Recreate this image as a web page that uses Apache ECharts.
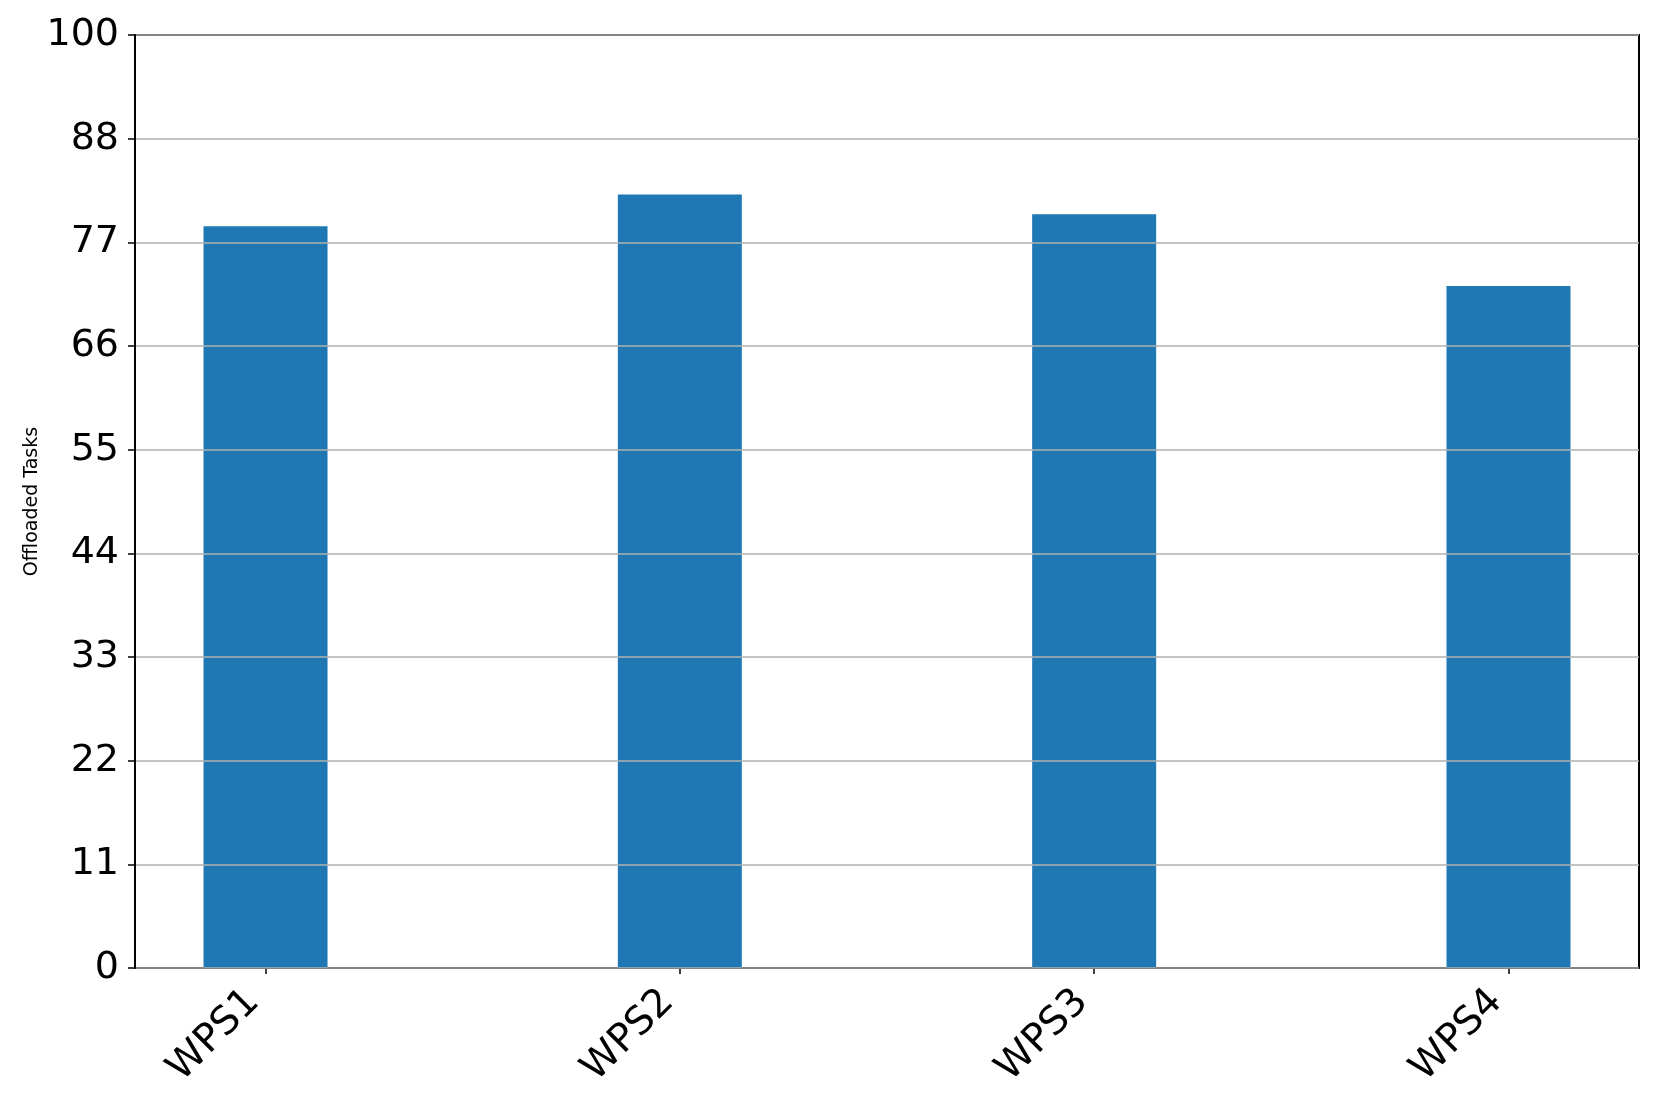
<!DOCTYPE html>
<html>
<head>
<meta charset="utf-8">
<script src="https://cdn.jsdelivr.net/npm/echarts@6/dist/echarts.min.js"></script>
<style>
  html, body { margin: 0; padding: 0; background: #fff; }
  #main { width: 1661px; height: 1107px; }
</style>
</head>
<body>
<div id="main"></div>
<script>
// data
var categories = ["WPS1", "WPS2", "WPS3", "WPS4"];
var offloaded = [79.5, 82.9, 80.8, 73.1];
var yTickLabels = ["0", "11", "22", "33", "44", "55", "66", "77", "88", "100"];

var yStep = 100 / 9;
var yTicks = yTickLabels.map(function (_, i) { return i * yStep; });
var xTicks = categories.map(function (_, i) { return i; });

var font = "DejaVu Sans";
var chart = echarts.init(document.getElementById("main"));

chart.setOption({
  animation: false,
  grid: {
    left: 135,
    top: 35,
    width: 1504,
    height: 933,
    show: true,
    borderColor: "#000",
    borderWidth: 2,
    backgroundColor: "transparent"
  },
  xAxis: {
    type: "value",
    min: -0.315,
    max: 3.315,
    axisLine: { show: true, onZero: false, lineStyle: { color: "#000", width: 2 } },
    axisTick: {
      show: true,
      length: 6,
      customValues: xTicks,
      lineStyle: { color: "#000", width: 1.5 }
    },
    axisLabel: {
      customValues: xTicks,
      rotate: 45,
      margin: 16,
      padding: [0, 17, 0, 0],
      fontFamily: font,
      fontSize: 39,
      color: "#000",
      formatter: function (v) { return categories[Math.round(v)]; }
    },
    splitLine: { show: false }
  },
  yAxis: {
    type: "value",
    min: 0,
    max: 100,
    interval: yStep,
    z: 3,
    name: "Offloaded Tasks",
    nameLocation: "middle",
    nameRotate: 90,
    nameGap: 93,
    nameMoveOverlap: false,
    nameTextStyle: { fontFamily: font, fontSize: 19, color: "#000" },
    axisLine: { show: true, onZero: false, lineStyle: { color: "#000", width: 2 } },
    axisTick: {
      show: true,
      length: 7,
      customValues: yTicks,
      lineStyle: { color: "#000", width: 1.5 }
    },
    axisLabel: {
      customValues: yTicks,
      margin: 16,
      fontFamily: font,
      fontSize: 38,
      color: "#000",
      formatter: function (v) { return yTickLabels[Math.round(v / yStep)]; }
    },
    splitLine: { show: true, lineStyle: { color: "#b0b0b0", width: 1.5 } }
  },
  series: [
    {
      type: "bar",
      barWidth: 124,
      itemStyle: { color: "#1f77b4" },
      data: offloaded.map(function (v, i) { return [xTicks[i], v]; })
    }
  ]
});
</script>
</body>
</html>
